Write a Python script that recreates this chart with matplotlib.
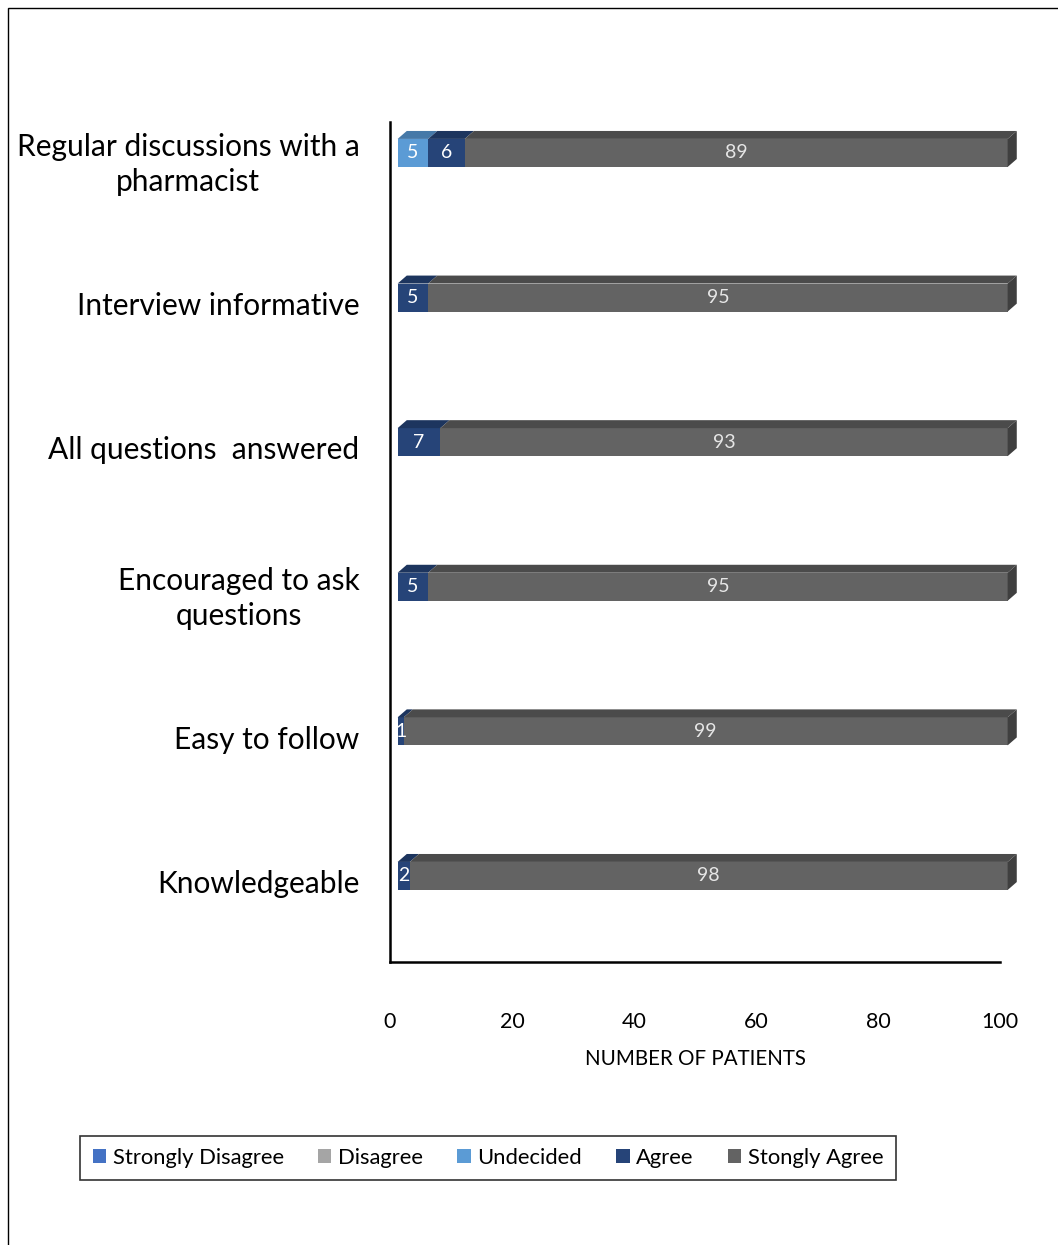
import matplotlib
matplotlib.use("Agg")
import matplotlib.pyplot as plt
from matplotlib.patches import Polygon, Rectangle, Patch
import numpy as np

plt.rcParams['font.family'] = ['Lato', 'DejaVu Sans']

# Data (bottom to top)
categories = ["Knowledgeable", "Easy to follow", "Encouraged to ask\nquestions",
              "All questions  answered", "Interview informative",
              "Regular discussions with a\npharmacist"]
strongly_disagree = [0, 0, 0, 0, 0, 0]
disagree = [0, 0, 0, 0, 0, 0]
undecided = [0, 0, 0, 0, 0, 5]
agree = [2, 1, 5, 7, 5, 6]
strongly_agree = [98, 99, 95, 93, 95, 89]

series = [("Strongly Disagree", strongly_disagree, "#4472C4", "#365F9F"),
          ("Disagree", disagree, "#A5A5A5", "#858585"),
          ("Undecided", undecided, "#5B9BD5", "#4679A8"),
          ("Agree", agree, "#264478", "#1D355E"),
          ("Stongly Agree", strongly_agree, "#636363", "#4B4B4B")]

fig = plt.figure(figsize=(10.58, 12.45), dpi=100)
ax = fig.add_axes([390/1058, 283/1245, 610/1058, 840/1245])

ypos = np.arange(len(categories))
h = 0.097      # half bar height
ox = 1.25      # shift of front face from wall
dx, dy = 1.5, 0.055   # depth of 3d faces

left = np.zeros(len(categories))
for name, vals, col, topcol in series:
    vals = np.array(vals, dtype=float)
    ax.barh(ypos, vals, left=left + ox, height=2 * h, color=col, linewidth=0, clip_on=False)
    for i, v in enumerate(vals):
        if v == 0:
            continue
        L, R, c = left[i] + ox, left[i] + v + ox, ypos[i]
        ax.add_patch(Polygon([(L, c + h), (R, c + h), (R + dx, c + h + dy), (L + dx, c + h + dy)],
                             closed=True, facecolor=topcol, edgecolor='none', clip_on=False))
        ax.text((L + R) / 2, c, f"{int(v)}", ha='center', va='center', fontsize=14,
                color='white' if name != "Stongly Agree" else '#E6E6E6')
    left += vals

# right side faces
for i, tot in enumerate(left):
    R, c = tot + ox, ypos[i]
    ax.add_patch(Polygon([(R, c - h), (R + dx, c - h + dy), (R + dx, c + h + dy), (R, c + h)],
                         closed=True, facecolor='#3F3F3F', edgecolor='none', clip_on=False))

ax.set_xlim(0, 100)
ax.set_ylim(-0.595, 5.214)
ax.set_xticks([0, 20, 40, 60, 80, 100])
ax.tick_params(axis='x', length=0, pad=36, labelsize=15.5)
ax.set_yticks(ypos - 0.04)
ax.set_yticklabels(categories, fontsize=21.5, multialignment='center', linespacing=1.3)
ax.tick_params(axis='y', length=0, pad=22)
ax.set_xlabel("NUMBER OF PATIENTS", fontsize=14.8, labelpad=12)
for s in ['top', 'right']:
    ax.spines[s].set_visible(False)
for s in ['left', 'bottom']:
    ax.spines[s].set_linewidth(1.8)

handles = [Patch(facecolor=col, edgecolor='none') for _, _, col, _ in series]
leg = fig.legend(handles, [s[0] for s in series], ncol=5, loc='center',
                 bbox_to_anchor=(488/1058, 87/1245), fontsize=15.8, frameon=True,
                 fancybox=False, handlelength=0.62, handleheight=0.62, handletextpad=0.3,
                 columnspacing=1.55, borderpad=0.55, borderaxespad=0)
leg.get_frame().set_edgecolor('black')
leg.get_frame().set_linewidth(1.2)

# outer chart border
fig.add_artist(Rectangle((8/1058, -0.01), 1.1, (1245 - 8)/1245 + 0.01, transform=fig.transFigure,
                         fill=False, edgecolor='black', linewidth=1))

fig.savefig("out.png", dpi=100)
